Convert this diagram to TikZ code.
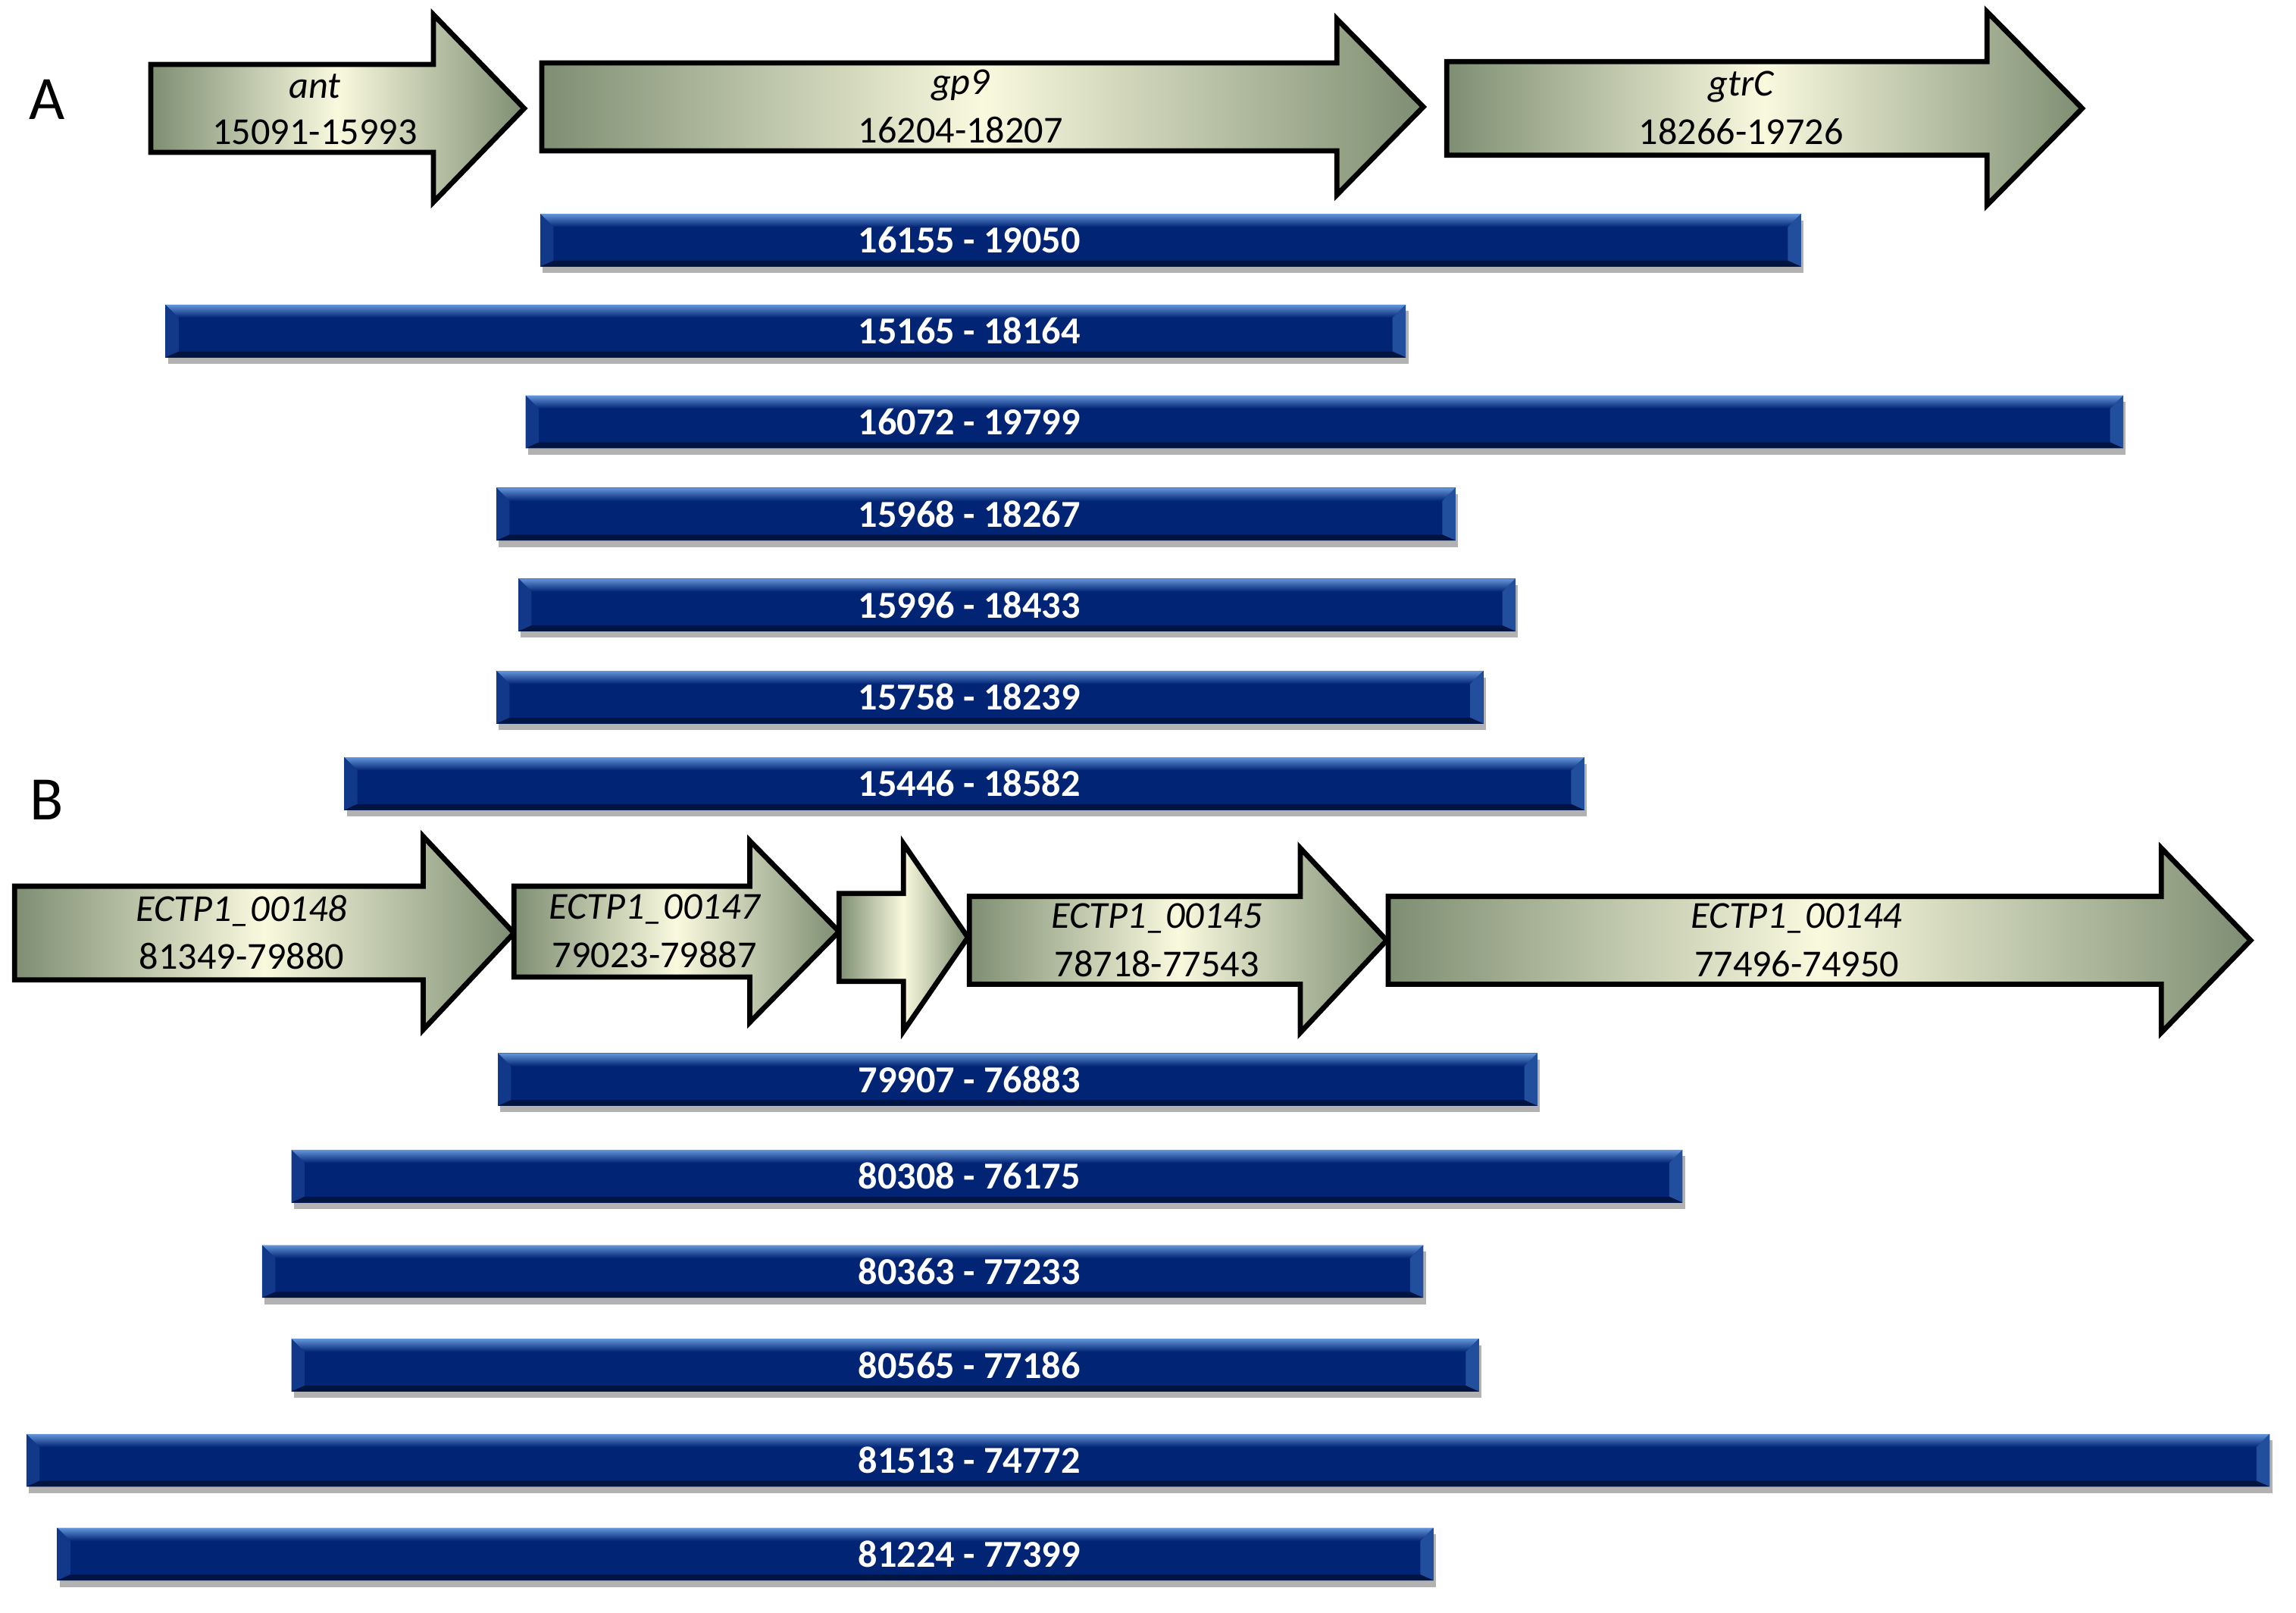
\documentclass[tikz,border=0pt]{standalone}
\usepackage{fontspec}
\setmainfont{Carlito}
\usetikzlibrary{shadows}

\definecolor{geneedge}{RGB}{126,142,114}
\definecolor{genemid}{RGB}{249,249,222}
\definecolor{barnavy}{RGB}{2,36,116}
\definecolor{barlight}{RGB}{100,150,218}
\definecolor{barside}{RGB}{34,78,158}
\definecolor{bardark}{RGB}{0,20,66}

% gene arrow: xleft, xhead, xtip, ycenter, body half height, head half height
\newcommand{\geneshape}[6]{%
  \path[gene arrow] (#1,#4-#5) -- (#2,#4-#5) -- (#2,#4-#6) -- (#3,#4)
    -- (#2,#4+#6) -- (#2,#4+#5) -- (#1,#4+#5) -- cycle;
}
% gene labels: name, x, ycenter, gene, position
\newcommand{\genetext}[5]{%
  \node[gene name] (#1-name) at (#2,#3-15) {#4};
  \node[gene pos] (#1-pos) at (#2,#3+16) {#5};
}
% hit bar: name, xleft, xright, ycenter, label
\newcommand{\hitbar}[5]{%
  \fill[barnavy, drop shadow={shadow xshift=1pt, shadow yshift=-2.5pt, opacity=0.3, fill=black}]
    (#2,#4-18) rectangle (#3,#4+18);
  \shade[top color=barlight, bottom color=barnavy]
    (#2,#4-18) -- (#3,#4-18) -- (#3-9,#4-9) -- (#2+9,#4-9) -- cycle;
  \fill[barside] (#3,#4-18) -- (#3,#4+18) -- (#3-9,#4+14) -- (#3-9,#4-9) -- cycle;
  \fill[barside!50!barnavy] (#2,#4-18) -- (#2+9,#4-9) -- (#2+9,#4+14) -- (#2,#4+18) -- cycle;
  \fill[bardark] (#2,#4+18) -- (#3,#4+18) -- (#3-9,#4+14) -- (#2+9,#4+14) -- cycle;
  \node[bar text] (#1) at (662,#4) {#5};
}

\begin{document}
\begin{tikzpicture}[x=0.02cm,y=-0.02cm,
    gene arrow/.style={draw=black,line width=2pt,line join=miter,left color=geneedge,right color=geneedge,middle color=genemid},
    gene name/.style={font=\fontsize{14.8}{17}\selectfont\itshape,inner sep=0pt},
    gene pos/.style={font=\fontsize{14.8}{17}\selectfont,inner sep=0pt},
    bar text/.style={font=\fontsize{14.8}{17}\selectfont\bfseries,text=white,inner sep=0pt},
    panel label/.style={font=\fontsize{24}{28}\selectfont,inner sep=0pt}]
  \useasboundingbox (0,0) rectangle (1568,1101);

  % panel A
  \node[panel label] (panelA) at (32,68) {A};
  \geneshape{103}{296}{358}{74}{30}{64}
  \geneshape{370}{913}{972}{73}{30}{60}
  \geneshape{988}{1357}{1422}{74}{32}{66}
  \genetext{ant}{215}{74}{ant}{15091-15993}
  \genetext{gp9}{656}{73}{gp9}{16204-18207}
  \genetext{gtrC}{1189}{74}{gtrC}{18266-19726}

  \hitbar{a1}{369}{1230}{164}{16155 - 19050}
  \hitbar{a2}{113}{960}{226}{15165 - 18164}
  \hitbar{a3}{359}{1450}{288}{16072 - 19799}
  \hitbar{a4}{339}{994}{351}{15968 - 18267}
  \hitbar{a5}{354}{1035}{413}{15996 - 18433}
  \hitbar{a6}{339}{1013}{476}{15758 - 18239}
  \hitbar{a7}{235}{1082}{535}{15446 - 18582}

  % panel B
  \node[panel label] (panelB) at (32,546) {B};
  \geneshape{10}{289}{351}{637}{32}{66}
  \geneshape{351}{512}{573}{636}{31}{62}
  \geneshape{573}{617}{661}{640}{30}{64}
  \geneshape{662}{888}{947}{642}{30}{63}
  \geneshape{948}{1476}{1537}{642}{30}{63}
  \genetext{e148}{165}{637}{ECTP1\_00148}{81349-79880}
  \genetext{e147}{447}{636}{ECTP1\_00147}{79023-79887}
  \genetext{e145}{790}{642}{ECTP1\_00145}{78718-77543}
  \genetext{e144}{1227}{642}{ECTP1\_00144}{77496-74950}

  \hitbar{b1}{340}{1050}{737}{79907 - 76883}
  \hitbar{b2}{199}{1149}{803}{80308 - 76175}
  \hitbar{b3}{179}{972}{868}{80363 - 77233}
  \hitbar{b4}{199}{1010}{932}{80565 - 77186}
  \hitbar{b5}{18}{1550}{997}{81513 - 74772}
  \hitbar{b6}{39}{979}{1061}{81224 - 77399}
\end{tikzpicture}
\end{document}
